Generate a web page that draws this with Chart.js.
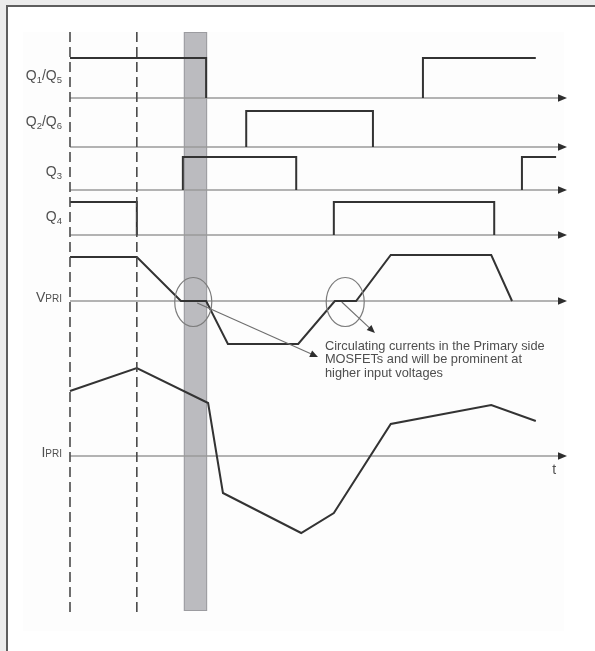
<!DOCTYPE html>
<html>
<head>
<meta charset="utf-8">
<script src="https://cdn.jsdelivr.net/npm/chart.js@4"></script>
<style>
  html, body { margin: 0; padding: 0; background: #ececec; }
  #frame { position: absolute; left: 6px; top: 5px; width: 620px; height: 680px; background: #fff;
           border-top: 2px solid #5e5e5e; border-left: 2px solid #5e5e5e; }
  #wrap { position: absolute; left: 0; top: 0; width: 595px; height: 651px; }
</style>
</head>
<body>
<div id="frame"></div>
<div id="wrap"><canvas id="c" width="595" height="651"></canvas></div>
<script>
// Switching waveforms of the phase-shifted full bridge (time in arbitrary units, 0..100)
const traceNames  = ['Q1/Q5', 'Q2/Q6', 'Q3', 'Q4', 'VPRI', 'IPRI'];
const baselines   = [51.5, 46.6, 42.3, 37.8, 31.2, 15.7];   // zero level of each trace
const labelRaise  = [2.3, 2.6, 1.9, 1.9, 0.4, 0.4];          // label height above its zero level
const gateHigh    = [4.0, 3.6, 3.3, 3.3];                    // drawn height of a gate "on" level

// gate drive signals (level 1 = on, null = break in the trace)
const q1Time  = [0, 27.5, 27.5, null, 71.3, 71.3, 94.1];
const q1Level = [1, 1, 0, null, 0, 1, 1];
const q2Time  = [35.6, 35.6, 61.2, 61.2];
const q2Level = [0, 1, 1, 0];
const q3Time  = [22.8, 22.8, 45.7, 45.7, null, 91.3, 91.3, 98.2];
const q3Level = [0, 1, 1, 0, null, 0, 1, 1];
const q4Time  = [0, 13.5, 13.5, null, 53.3, 53.3, 85.7, 85.7];
const q4Level = [1, 1, 0, null, 0, 1, 1, 0];

// primary voltage and current
const vpriTime  = [0, 13.5, 22.4, 27.5, 31.9, 46.1, 53.5, 57.8, 64.8, 85.1, 89.3];
const vpriLevel = [4.4, 4.4, 0, 0, -4.3, -4.3, 0, 0, 4.6, 4.6, 0];
const ipriTime  = [0, 13.5, 27.9, 30.9, 46.7, 53.3, 64.8, 85.1, 94.1];
const ipriLevel = [6.5, 8.8, 5.3, -3.7, -7.7, -5.7, 3.2, 5.1, 3.5];

// markers
const dashTimes = [0, 13.5];
const bandStart = 23.0, bandEnd = 27.7;
const axisEnd = 100;
const ringTimes = [24.9, 55.6];
const ringHalfWidth = [3.74, 3.84];
const ringHalfHeight = 2.45;
const arrowFrom = [[25.7, -0.2], [54.9, -0.1]];   // [time, level relative to VPRI zero]
const arrowTo   = [[50.1, -5.6], [61.6, -3.2]];
const noteLines = ['Circulating currents in the Primary side',
                   'MOSFETs and will be prominent at',
                   'higher input voltages'];
const noteTime = 51.5, noteLevel = -4.5, noteStep = 1.35;
const timeLabel = 't', timeLabelAt = [97.4, -1.4];   // relative to IPRI zero

const FONT = '"Liberation Sans", Arial, sans-serif';

function trace(times, levels, base, amp) {
  return times.map((t, i) => t === null
    ? { x: times[i - 1], y: null }
    : { x: t, y: base + levels[i] * amp });
}

const signalStyle = { showLine: true, pointRadius: 0, borderColor: '#333', borderWidth: 2,
                      spanGaps: false, tension: 0, fill: false, clip: false,
                      borderJoinStyle: 'miter' };

const datasets = [
  ...dashTimes.map(t => ({
    data: [{ x: t, y: 58.1 }, { x: t, y: 0 }],
    showLine: true, pointRadius: 0, borderColor: '#4a4a4a', borderWidth: 1.6,
    borderDash: [10, 5], clip: false
  })),
  { ...signalStyle, data: trace(q1Time, q1Level, baselines[0], gateHigh[0]) },
  { ...signalStyle, data: trace(q2Time, q2Level, baselines[1], gateHigh[1]) },
  { ...signalStyle, data: trace(q3Time, q3Level, baselines[2], gateHigh[2]) },
  { ...signalStyle, data: trace(q4Time, q4Level, baselines[3], gateHigh[3]) },
  { ...signalStyle, data: trace(vpriTime, vpriLevel, baselines[4], 1) },
  { ...signalStyle, data: trace(ipriTime, ipriLevel, baselines[5], 1) }
];

// pieces of each trace label: [text, size, baseline shift]
const labelParts = [
  [['Q', 14, 0], ['1', 9.5, 3], ['/', 14, 0], ['Q', 14, 0], ['5', 9.5, 3]],
  [['Q', 14, 0], ['2', 9.5, 3], ['/', 14, 0], ['Q', 14, 0], ['6', 9.5, 3]],
  [['Q', 14, 0], ['3', 9.5, 3]],
  [['Q', 14, 0], ['4', 9.5, 3]],
  [['V', 14, 0], ['PRI', 10, 0]],
  [['I', 14, 0], ['PRI', 10, 0]]
];

const diagram = {
  id: 'diagram',
  beforeDraw(chart) {
    const ctx = chart.ctx;
    ctx.save();
    ctx.fillStyle = '#fdfdfd';
    ctx.fillRect(23, 32, 541, 599);
    ctx.restore();
  },
  beforeDatasetsDraw(chart) {
    const { ctx, chartArea: a, scales: { x, y } } = chart;
    ctx.save();
    // highlighted dead-time interval
    const bx0 = x.getPixelForValue(bandStart), bx1 = x.getPixelForValue(bandEnd);
    ctx.fillStyle = '#bbbbbf';
    ctx.fillRect(bx0, a.top, bx1 - bx0, a.bottom - a.top - 2);
    ctx.strokeStyle = '#9c9ca0';
    ctx.lineWidth = 1;
    ctx.strokeRect(bx0 + 0.5, a.top + 0.5, bx1 - bx0 - 1, a.bottom - a.top - 3);
    // time axes with arrowheads
    baselines.forEach(b => {
      const py = y.getPixelForValue(b);
      const x0 = x.getPixelForValue(0), x1 = x.getPixelForValue(axisEnd);
      ctx.strokeStyle = '#9a9a9a';
      ctx.lineWidth = 1.6;
      ctx.beginPath();
      ctx.moveTo(x0, py);
      ctx.lineTo(x1 - 6, py);
      ctx.stroke();
      ctx.fillStyle = '#2e2e2e';
      ctx.beginPath();
      ctx.moveTo(x1 + 2, py);
      ctx.lineTo(x1 - 7, py - 3.8);
      ctx.lineTo(x1 - 7, py + 3.8);
      ctx.closePath();
      ctx.fill();
    });
    ctx.restore();
  },
  afterDatasetsDraw(chart) {
    const { ctx, chartArea: a, scales: { x, y } } = chart;
    ctx.save();
    // trace names
    ctx.fillStyle = '#505050';
    ctx.textBaseline = 'alphabetic';
    labelParts.forEach((parts, i) => {
      let w = 0;
      parts.forEach(([s, size]) => { ctx.font = size + 'px ' + FONT; w += ctx.measureText(s).width; });
      let px = a.left - 8 - w;
      const py = y.getPixelForValue(baselines[i] + labelRaise[i]) + 5;
      parts.forEach(([s, size, dy]) => {
        ctx.font = size + 'px ' + FONT;
        ctx.fillText(s, px, py + dy);
        px += ctx.measureText(s).width;
      });
    });
    // rings around the zero-voltage intervals
    const vz = baselines[4];
    ctx.strokeStyle = '#7c7c7c';
    ctx.lineWidth = 1.2;
    ringTimes.forEach((t, i) => {
      const cx = x.getPixelForValue(t), cy = y.getPixelForValue(vz);
      const rx = x.getPixelForValue(t + ringHalfWidth[i]) - cx;
      const ry = cy - y.getPixelForValue(vz + ringHalfHeight);
      ctx.beginPath();
      ctx.ellipse(cx, cy + 1, rx, ry, 0, 0, Math.PI * 2);
      ctx.stroke();
    });
    // pointer arrows toward the note
    arrowFrom.forEach((f, i) => {
      const x0 = x.getPixelForValue(f[0]), y0 = y.getPixelForValue(vz + f[1]);
      const x1 = x.getPixelForValue(arrowTo[i][0]), y1 = y.getPixelForValue(vz + arrowTo[i][1]);
      const ang = Math.atan2(y1 - y0, x1 - x0);
      ctx.strokeStyle = '#6e6e6e';
      ctx.lineWidth = 1.1;
      ctx.beginPath();
      ctx.moveTo(x0, y0);
      ctx.lineTo(x1 - 6 * Math.cos(ang), y1 - 6 * Math.sin(ang));
      ctx.stroke();
      ctx.fillStyle = '#2e2e2e';
      ctx.beginPath();
      ctx.moveTo(x1, y1);
      ctx.lineTo(x1 - 8 * Math.cos(ang) + 3.5 * Math.sin(ang), y1 - 8 * Math.sin(ang) - 3.5 * Math.cos(ang));
      ctx.lineTo(x1 - 8 * Math.cos(ang) - 3.5 * Math.sin(ang), y1 - 8 * Math.sin(ang) + 3.5 * Math.cos(ang));
      ctx.closePath();
      ctx.fill();
    });
    // note text
    ctx.fillStyle = '#4e4e4e';
    ctx.font = '12.8px ' + FONT;
    ctx.textBaseline = 'middle';
    noteLines.forEach((s, i) => {
      ctx.fillText(s, x.getPixelForValue(noteTime), y.getPixelForValue(vz + noteLevel - i * noteStep));
    });
    // time axis name
    ctx.font = '14px ' + FONT;
    ctx.fillStyle = '#505050';
    ctx.fillText(timeLabel, x.getPixelForValue(timeLabelAt[0]), y.getPixelForValue(baselines[5] + timeLabelAt[1]));
    ctx.restore();
  }
};

new Chart(document.getElementById('c'), {
  type: 'scatter',
  data: { datasets },
  options: {
    responsive: false,
    animation: false,
    events: [],
    layout: { padding: { left: 70, right: 30, top: 32, bottom: 38 } },
    plugins: { legend: { display: false }, tooltip: { enabled: false } },
    scales: {
      x: { type: 'linear', min: 0, max: 100, display: false },
      y: { type: 'linear', min: 0, max: 58.1, display: false }
    }
  },
  plugins: [diagram]
});
</script>
</body>
</html>
